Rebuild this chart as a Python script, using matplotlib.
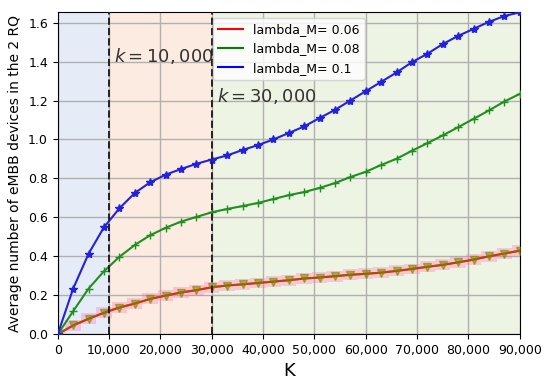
import numpy as np
import matplotlib.pyplot as plt
from matplotlib.lines import Line2D
from matplotlib.ticker import FuncFormatter

# K values (markers every 3000)
k = np.arange(0, 90001, 3000)

lam_006 = [0.0, 0.045, 0.079, 0.110, 0.137, 0.157, 0.181, 0.198, 0.214, 0.226, 0.241,
           0.250, 0.256, 0.263, 0.270, 0.277, 0.286, 0.291, 0.298, 0.305, 0.310,
           0.316, 0.325, 0.335, 0.346, 0.356, 0.369, 0.383, 0.400, 0.414, 0.429]
lam_008 = [0.0, 0.118, 0.234, 0.323, 0.397, 0.458, 0.508, 0.546, 0.578, 0.602, 0.626,
           0.643, 0.658, 0.674, 0.694, 0.714, 0.730, 0.751, 0.776, 0.807, 0.834,
           0.869, 0.901, 0.942, 0.981, 1.021, 1.063, 1.106, 1.149, 1.195, 1.234]
lam_01 = [0.0, 0.234, 0.413, 0.549, 0.646, 0.725, 0.780, 0.819, 0.848, 0.875, 0.897,
          0.918, 0.946, 0.971, 1.000, 1.033, 1.067, 1.110, 1.152, 1.200, 1.248,
          1.296, 1.344, 1.397, 1.440, 1.490, 1.532, 1.568, 1.604, 1.634, 1.653]
labels = ['lambda_M= 0.06', 'lambda_M= 0.08', 'lambda_M= 0.1']

band_half = 0.028
k_marks = [10000, 30000]


def main():
    fig = plt.figure(figsize=(5.5, 3.85), dpi=100)
    ax = fig.add_axes([0.105, 0.132, 0.84, 0.837])

    # shaded phases
    ax.axvspan(0, k_marks[0], color='#e6ebf8', zorder=0)
    ax.axvspan(k_marks[0], k_marks[1], color='#fcebe0', zorder=0)
    ax.axvspan(k_marks[1], k[-1], color='#edf4e3', zorder=0)

    red = np.array(lam_006)
    ax.fill_between(k, red - band_half, red + band_half, step='mid',
                    color='hotpink', alpha=0.3, lw=0, zorder=1)

    ax.plot(k, lam_006, color='red', lw=1.5, zorder=3)
    ax.plot(k, lam_006, color='olive', lw=1.5, alpha=0.55, marker='v', ms=5.5, zorder=3)
    ax.plot(k, lam_008, color='#1f8f1f', lw=1.5, marker='+', ms=6, zorder=3)
    ax.plot(k, lam_01, color='#2222dd', lw=1.5, marker='*', ms=6, zorder=3)

    for km in k_marks:
        ax.axvline(km, color='#222222', ls='--', lw=1.4, zorder=4)

    ax.text(11000, 1.40, '$k=10,000$', fontsize=13, color='#333333')
    ax.text(31000, 1.19, '$k=30,000$', fontsize=13, color='#333333')

    ax.set_xlim(0, 90000)
    ax.set_ylim(0, 1.655)
    ax.set_xticks(np.arange(0, 90001, 10000))
    ax.set_yticks(np.arange(0, 1.61, 0.2))
    ax.xaxis.set_major_formatter(FuncFormatter(lambda v, p: f'{int(v):,}'))
    ax.tick_params(labelsize=9)
    ax.grid(True, color='#b0b0b0', lw=1.0, zorder=1)
    ax.set_axisbelow(True)

    ax.set_xlabel('K', fontsize=13)
    ax.set_ylabel('Average number of eMBB devices in the 2 RQ', fontsize=10)

    handles = [Line2D([], [], color=c, lw=1.5) for c in ['red', 'green', 'blue']]
    ax.legend(handles, labels, loc='upper center', fontsize=9)

    fig.savefig('out.png', dpi=100)


if __name__ == "__main__":
    main()
